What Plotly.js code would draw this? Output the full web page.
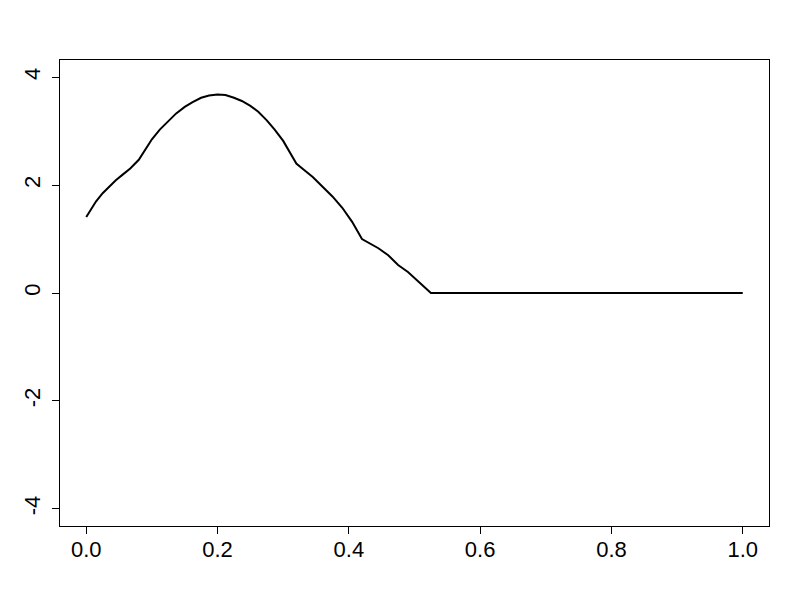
<!DOCTYPE html>
<html>
<head>
<meta charset="utf-8">
<script src="https://cdn.plot.ly/plotly-3.0.1.min.js"></script>
<style>
  html, body { margin: 0; padding: 0; background: #fff; }
  #chart { width: 800px; height: 600px; }
</style>
</head>
<body>
<div id="chart"></div>
<script>
// -------------------- DATA --------------------
const xVals = [0, 0.008, 0.015, 0.025, 0.035, 0.045, 0.055, 0.067, 0.08, 0.09,
               0.1, 0.112, 0.125, 0.137, 0.15, 0.162, 0.175, 0.187, 0.2, 0.212,
               0.225, 0.237, 0.25, 0.262, 0.275, 0.287, 0.3, 0.31, 0.32, 0.33,
               0.345, 0.36, 0.375, 0.39, 0.405, 0.42, 0.43, 0.445, 0.46, 0.475,
               0.49, 0.505, 0.515, 0.525, 1.0];
const yVals = [1.41, 1.56, 1.70, 1.85, 1.97, 2.09, 2.19, 2.31, 2.47, 2.67,
               2.85, 3.03, 3.19, 3.33, 3.45, 3.54, 3.62, 3.66, 3.68, 3.67,
               3.62, 3.56, 3.47, 3.36, 3.20, 3.03, 2.82, 2.62, 2.40, 2.30,
               2.15, 1.97, 1.79, 1.58, 1.32, 1.00, 0.93, 0.83, 0.70, 0.52,
               0.39, 0.22, 0.10, 0.0, 0.0];

const xTicks = [0, 0.2, 0.4, 0.6, 0.8, 1.0];
const xTickText = ["0.0", "0.2", "0.4", "0.6", "0.8", "1.0"];
const yTicks = [-4, -2, 0, 2, 4];
const yTickText = ["-4", "-2", "0", "2", "4"];

// -------------------- PLOT --------------------
const axisFont = { family: "Liberation Sans, Arial, sans-serif", size: 22, color: "#000" };

const axisCommon = {
    showgrid: false,
    zeroline: false,
    showline: true,
    mirror: true,
    linecolor: "#000",
    linewidth: 1,
    ticks: "outside",
    ticklen: 7,
    tickcolor: "#000",
    tickwidth: 1,
    tickfont: axisFont
};

Plotly.newPlot("chart", [{
    x: xVals,
    y: yVals,
    mode: "lines",
    type: "scatter",
    line: { color: "#000", width: 2 },
    hoverinfo: "skip"
}], {
    width: 800,
    height: 600,
    margin: { l: 60, r: 31, t: 60, b: 74 },
    paper_bgcolor: "#fff",
    plot_bgcolor: "#fff",
    showlegend: false,
    xaxis: Object.assign({}, axisCommon, {
        range: [-0.04, 1.04],
        tickvals: xTicks,
        ticktext: xTickText,
        ticklabelstandoff: -3
    }),
    yaxis: Object.assign({}, axisCommon, {
        range: [-4.32, 4.32],
        tickvals: yTicks,
        ticktext: yTickText,
        tickangle: -90,
        ticklabelstandoff: 3
    })
}, { staticPlot: true });
</script>
</body>
</html>
